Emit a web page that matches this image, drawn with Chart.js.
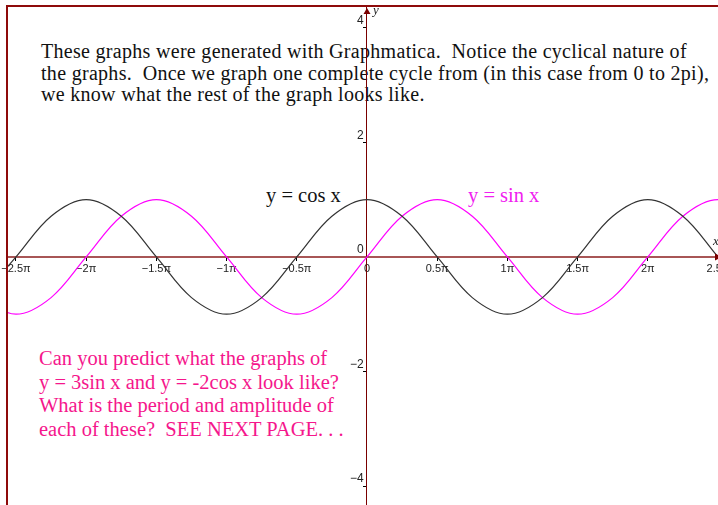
<!DOCTYPE html>
<html>
<head>
<meta charset="utf-8">
<script src="https://cdn.jsdelivr.net/npm/chart.js@4/dist/chart.umd.min.js"></script>
<style>
  body { margin: 0; background: #fff; }
  #wrap { position: relative; width: 718px; height: 505px; overflow: hidden; }
  #graph { position: absolute; left: 0; top: 0; z-index: 1; }
  .note { position: absolute; z-index: 0; font-family: "Liberation Serif", "Times New Roman", serif; white-space: nowrap; }
  #intro { left: 41px; top: 41px; font-size: 20px; line-height: 21.5px; letter-spacing: 0.3px; color: #111; }
  #question { left: 39px; top: 347px; font-size: 20.5px; line-height: 23.7px; color: #f5168c; }
  #cosLabel { left: 266px; top: 185px; font-size: 20.5px; line-height: 21.5px; color: #111; }
  #sinLabel { left: 468px; top: 185px; font-size: 20.5px; line-height: 21.5px; color: #f020f0; }
  .axisName { position: absolute; z-index: 2; font-family: "Liberation Serif", serif; font-style: italic; font-size: 13px; color: #222; }
</style>
</head>
<body>
<div id="wrap">
  <div class="note" id="intro">These graphs were generated with Graphmatica.&nbsp; Notice the cyclical nature of<br>the graphs.&nbsp; Once we graph one complete cycle from (in this case from 0 to 2pi),<br>we know what the rest of the graph looks like.</div>
  <div class="note" id="question">Can you predict what the graphs of<br>y = 3sin x and y = -2cos x look like?<br>What is the period and amplitude of<br>each of these?&nbsp; SEE NEXT PAGE. . .</div>
  <div class="note" id="cosLabel">y = cos x</div>
  <div class="note" id="sinLabel">y = sin x</div>
  <div class="axisName" style="left:373px; top:2px;">y</div>
  <div class="axisName" style="left:713px; top:233px;">x</div>
  <canvas id="graph" width="718" height="505"></canvas>
</div>
<script>
// x positions in multiples of pi
const xPi = [-2.75, -2.5, -2.25, -2, -1.75, -1.5, -1.25, -1, -0.75, -0.5, -0.25, 0,
             0.25, 0.5, 0.75, 1, 1.25, 1.5, 1.75, 2, 2.25, 2.5, 2.75];
const cosY = [-0.71, 0, 0.71, 1, 0.71, 0, -0.71, -1, -0.71, 0, 0.71, 1,
              0.71, 0, -0.71, -1, -0.71, 0, 0.71, 1, 0.71, 0, -0.71];
const sinY = [-0.71, -1, -0.71, 0, 0.71, 1, 0.71, 0, -0.71, -1, -0.71, 0,
              0.71, 1, 0.71, 0, -0.71, -1, -0.71, 0, 0.71, 1, 0.71];

const xTickValues = [-2.5, -2, -1.5, -1, -0.5, 0, 0.5, 1, 1.5, 2, 2.5];
const xTickLabels = ['\u22122.5\u03c0', '\u22122\u03c0', '\u22121.5\u03c0', '\u22121\u03c0', '\u22120.5\u03c0', '0',
                     '0.5\u03c0', '1\u03c0', '1.5\u03c0', '2\u03c0', '2.5\u03c0'];
const yTickValues = [-4, -2, 0, 2, 4];
const yTickLabels = ['\u22124', '\u22122', '0', '2', '4'];

const frameColor = '#8e0a0a';

// frame on the top and left edges plus the axis arrowheads
const framePlugin = {
  id: 'frame',
  afterDraw(chart) {
    const { ctx, chartArea, scales } = chart;
    ctx.save();
    ctx.strokeStyle = frameColor;
    ctx.lineWidth = 2;
    ctx.beginPath();
    ctx.moveTo(chartArea.left, chartArea.bottom);
    ctx.lineTo(chartArea.left, chartArea.top);
    ctx.lineTo(chartArea.right, chartArea.top);
    ctx.stroke();

    const ax = scales.x.getPixelForValue(0);
    const ay = scales.y.getPixelForValue(0);
    ctx.fillStyle = '#7a0000';
    ctx.beginPath();
    ctx.moveTo(ax, chartArea.top + 2);
    ctx.lineTo(ax - 3.5, chartArea.top + 8);
    ctx.lineTo(ax + 3.5, chartArea.top + 8);
    ctx.closePath();
    ctx.fill();
    ctx.beginPath();
    ctx.moveTo(chartArea.right + 4, ay);
    ctx.lineTo(chartArea.right - 3, ay - 3.5);
    ctx.lineTo(chartArea.right - 3, ay + 3.5);
    ctx.closePath();
    ctx.fill();
    ctx.restore();
  }
};

// axes sit inside the plot, so they should not shrink it for their end labels
const noEdgePadding = (scale) => {
  scale.paddingLeft = 0;
  scale.paddingRight = 0;
  scale.paddingTop = 0;
  scale.paddingBottom = 0;
};

const tickFont = { family: '"Liberation Sans", Arial, sans-serif', size: 11 };

new Chart(document.getElementById('graph'), {
  type: 'scatter',
  data: {
    datasets: [
      {
        label: 'y = cos x',
        data: xPi.map((x, i) => ({ x: x, y: cosY[i] })),
        showLine: true,
        borderColor: '#333333',
        borderWidth: 1.2,
        pointRadius: 0,
        tension: 0.35
      },
      {
        label: 'y = sin x',
        data: xPi.map((x, i) => ({ x: x, y: sinY[i] })),
        showLine: true,
        borderColor: '#ff00ff',
        borderWidth: 1.2,
        pointRadius: 0,
        tension: 0.35
      }
    ]
  },
  options: {
    responsive: false,
    animation: false,
    layout: { padding: { left: 7, top: 6, right: 0, bottom: 0 } },
    plugins: {
      legend: { display: false },
      tooltip: { enabled: false }
    },
    scales: {
      x: {
        type: 'linear',
        min: -2.564,
        max: 2.5,
        position: { y: 0 },
        afterBuildTicks: (scale) => { scale.ticks = xTickValues.map(v => ({ value: v })); },
        afterFit: noEdgePadding,
        border: { color: '#a85656', width: 2 },
        grid: { drawOnChartArea: false, drawTicks: true, tickLength: 3, tickColor: '#000' },
        ticks: {
          autoSkip: false,
          maxRotation: 0,
          padding: 2,
          color: '#222',
          font: tickFont,
          callback: (value, index) => xTickLabels[index]
        }
      },
      y: {
        type: 'linear',
        min: -4.33,
        max: 4.38,
        position: { x: 0 },
        afterBuildTicks: (scale) => { scale.ticks = yTickValues.map(v => ({ value: v })); },
        afterFit: noEdgePadding,
        border: { color: '#7a0000', width: 1 },
        grid: { drawOnChartArea: false, drawTicks: true, tickLength: 3, tickColor: '#000' },
        ticks: {
          autoSkip: false,
          labelOffset: -7,
          color: '#222',
          font: { family: '"Liberation Sans", Arial, sans-serif', size: 12 },
          // labels are right-aligned on the axis line itself, so keep a small gap
          callback: (value, index) => yTickLabels[index] + '\u00a0'
        }
      }
    }
  },
  plugins: [framePlugin]
});
</script>
</body>
</html>
